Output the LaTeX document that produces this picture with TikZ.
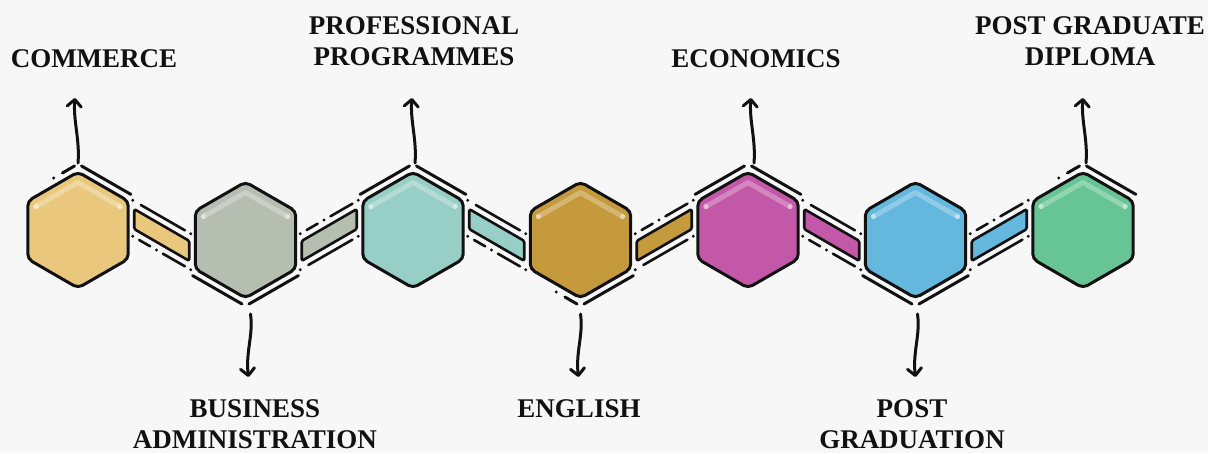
\documentclass[tikz,border=0pt]{standalone}
\usepackage{fontspec}
\setmainfont{Liberation Serif}
\usetikzlibrary{calc,shapes.geometric,arrows.meta}
\definecolor{bgc}{HTML}{F7F7F7}
\definecolor{cA}{HTML}{E9C87E}
\definecolor{cB}{HTML}{B5BEB1}
\definecolor{cC}{HTML}{97CEC5}
\definecolor{cD}{HTML}{C49A3C}
\definecolor{cE}{HTML}{C357A8}
\definecolor{cF}{HTML}{64B7DD}
\definecolor{cG}{HTML}{67C595}
\definecolor{ink}{HTML}{111111}
\tikzset{
 hexbox/.style={regular polygon, regular polygon sides=6, shape border rotate=30,
   minimum size=116pt, inner sep=0pt, outer sep=0pt, draw=ink, line width=3pt,
   rounded corners=5pt},
 barbox/.style={draw=ink, line width=2.6pt, rounded corners=1.5pt, line join=round},
 rim/.style={draw=ink, line width=3pt, line cap=round},
 dd/.style={draw=ink, line width=2.6pt, line cap=round},
 shine/.style={line width=5pt, line cap=round, line join=round},
 arr/.style={draw=ink, line width=3pt, line cap=round,
   -{Straight Barb[length=7pt,width=14pt,round]}},
 lab/.style={font=\bfseries\fontsize{27}{31}\selectfont, align=center, inner sep=0pt, text=ink}
}
\begin{document}
\begin{tikzpicture}[x=1pt,y=-1pt]
\fill[bgc] (0,0) rectangle (1208,453);
\useasboundingbox (0,0) rectangle (1208,453);

% hexagons
\foreach \n/\x/\y/\c in {1/78/230/cA, 2/245.5/240/cB, 3/413/230/cC, 4/580.5/240/cD,
                          5/748/230/cE, 6/915.5/240/cF, 7/1083/230/cG}{
  \node[hexbox, fill=\c] (h\n) at (\x,\y) {};
  \draw[shine, \c!72!white] ($(h\n)+(-42,-23.5)$) -- ($(h\n)+(0,-47.5)$) -- ($(h\n)+(42,-23.5)$);
  \fill[\c!40!white] ($(h\n)+(-42,-23.5)$) circle (2.6);
  \fill[\c!40!white] ($(h\n)+(42,-23.5)$) circle (2.6);
}

% rim lines outside the hexagons
\foreach \n/\u/\sh in {1/-1/1, 2/1/0, 3/-1/0, 4/1/1, 5/-1/0, 6/1/0, 7/-1/1}{
  \draw[rim] ($(h\n)+(3.5,{\u*64})$) -- ($(h\n)+(52.9,{\u*35.6})$);
  \ifnum\sh=1
    \draw[rim] ($(h\n)+(-3.5,{\u*64})$) -- ($(h\n)+(-15.6,{\u*57})$);
    \fill[ink] ($(h\n)+(-24.3,{\u*52})$) circle (1.7);
  \else
    \draw[rim] ($(h\n)+(-3.5,{\u*64})$) -- ($(h\n)+(-52.9,{\u*35.6})$);
  \fi
}

% connecting bars
\foreach \i/\j/\s/\c in {1/2/1/cA, 2/3/-1/cB, 3/4/1/cC, 4/5/-1/cD, 5/6/1/cE, 6/7/-1/cF}{
  \coordinate (m\i) at ($(h\i)!0.5!(h\j)$);
  \draw[barbox, fill=\c] ($(m\i)+(-27.5,{-\s*15.9-10})$) -- ($(m\i)+(27.5,{\s*15.9-10})$)
     -- ($(m\i)+(27.5,{\s*15.9+10})$) -- ($(m\i)+(-27.5,{-\s*15.9+10})$) -- cycle;
  \coordinate (pa\i) at ($(m\i)+(-29,{-\s*16.7-18*\s})$);
  \coordinate (pb\i) at ($(m\i)+(29,{\s*16.7-18*\s})$);
  \coordinate (qa\i) at ($(m\i)+(-29,{-\s*16.7+18*\s})$);
  \coordinate (qb\i) at ($(m\i)+(29,{\s*16.7+18*\s})$);
  \fill[ink] (pa\i) circle (1.6);
  \draw[dd] ($(pa\i)!0.14!(pb\i)$) -- ($(pa\i)!0.9!(pb\i)$);
  \fill[ink] (pb\i) circle (1.6);
  \fill[ink] (qa\i) circle (1.6);
  \draw[dd] ($(qa\i)!0.11!(qb\i)$) -- ($(qa\i)!0.3!(qb\i)$);
  \fill[ink] ($(qa\i)!0.41!(qb\i)$) circle (1.6);
  \draw[dd] ($(qa\i)!0.52!(qb\i)$) -- ($(qa\i)!0.9!(qb\i)$);
  \fill[ink] (qb\i) circle (1.6);
}

% labels
\node[lab, anchor=base]  (l1) at (94,67)   {COMMERCE};
\node[lab, anchor=north] (l3) at (414,16)  {PROFESSIONAL\\PROGRAMMES};
\node[lab, anchor=base]  (l5) at (756,67)  {ECONOMICS};
\node[lab, anchor=north] (l7) at (1090,16) {POST GRADUATE\\DIPLOMA};
\node[lab, anchor=north] (l2) at (255,399) {BUSINESS\\ADMINISTRATION};
\node[lab, anchor=base]  (l4) at (579,417) {ENGLISH};
\node[lab, anchor=north] (l6) at (912,399) {POST\\GRADUATION};

% arrows up
\foreach \n/\dx in {1/-1, 3/1, 5/5, 7/2}{
  \coordinate (s\n) at ($(h\n)+(\dx+1,-67)$);
  \coordinate (e\n) at ($(h\n)+(\dx-2,-132)$);
  \draw[arr] (s\n) .. controls ($(h\n)+(\dx+3,-90)$) and ($(h\n)+(\dx-4,-110)$) .. (e\n);
}
% arrows down
\foreach \n/\dx in {2/3, 4/-2, 6/0}{
  \coordinate (s\n) at ($(h\n)+(\dx+2,74)$);
  \coordinate (e\n) at ($(h\n)+(\dx,137)$);
  \draw[arr] (s\n) .. controls ($(h\n)+(\dx+5,95)$) and ($(h\n)+(\dx-3,112)$) .. (e\n);
}
\end{tikzpicture}
\end{document}
